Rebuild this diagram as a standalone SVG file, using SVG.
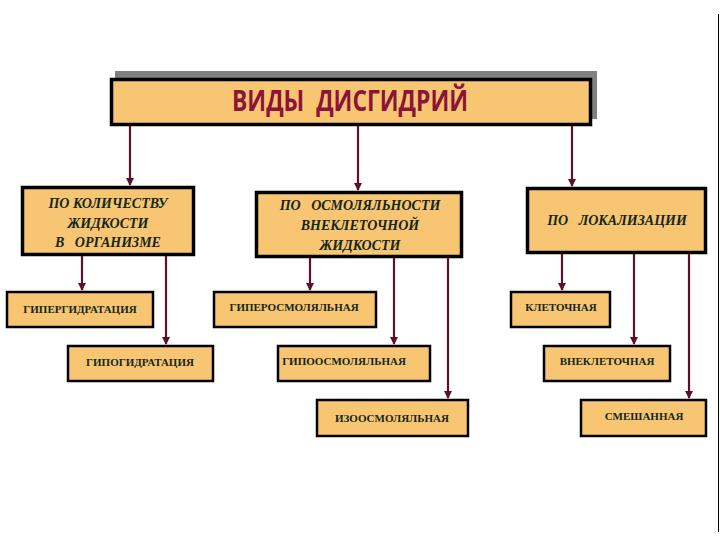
<svg xmlns="http://www.w3.org/2000/svg" width="720" height="540" viewBox="0 0 720 540">
<style>
text{white-space:pre;}
.box{fill:#F8C672;stroke:#000;}
.b2{stroke-width:3.5;}
.b3{stroke-width:2.5;}
.t2{font-family:"Liberation Serif","Times New Roman",serif;font-weight:bold;font-style:italic;font-size:14px;fill:#14261a;text-anchor:middle;}
.t3{font-family:"Liberation Serif","Times New Roman",serif;font-weight:bold;font-size:11px;fill:#14261a;text-anchor:middle;}
.c{stroke:#5c0f2e;stroke-width:2.2;fill:none;marker-end:url(#ah);}
</style>
<defs>
<marker id="ah" markerWidth="8" markerHeight="8" refX="7" refY="4" orient="auto" markerUnits="userSpaceOnUse">
<path d="M0,0 L8,4 L0,8 Z" fill="#5c0f2e"/>
</marker>
</defs>
<rect width="720" height="540" fill="#fff"/>
<line x1="718.5" y1="14" x2="718.5" y2="532" stroke="#000" stroke-width="1"/>
<g id="title">
<rect x="115" y="71" width="482" height="48" fill="#808080"/>
<rect class="box" x="111.5" y="79.5" width="479" height="45" stroke-width="3.5"/>
<text x="350" y="111" font-family="'Open Sans','DejaVu Sans',sans-serif" font-weight="bold" font-size="28" fill="#8a1538" text-anchor="middle" textLength="236" lengthAdjust="spacingAndGlyphs">ВИДЫ  ДИСГИДРИЙ</text>
</g>
<g id="quantity">
<rect class="box b2" x="22.5" y="187.5" width="171" height="67"/>
<text class="t2" x="108" y="208">ПО КОЛИЧЕСТВУ</text>
<text class="t2" x="108" y="228">ЖИДКОСТИ</text>
<text class="t2" x="108" y="247">В   ОРГАНИЗМЕ</text>
</g>
<g id="osmolality">
<rect class="box b2" x="256.5" y="192.5" width="205" height="64"/>
<text class="t2" x="360" y="210">ПО   ОСМОЛЯЛЬНОСТИ</text>
<text class="t2" x="360" y="230">ВНЕКЛЕТОЧНОЙ</text>
<text class="t2" x="360" y="250">ЖИДКОСТИ</text>
</g>
<g id="localization">
<rect class="box b2" x="527.5" y="188.5" width="178" height="64"/>
<text class="t2" x="617" y="225">ПО   ЛОКАЛИЗАЦИИ</text>
</g>
<g id="hyperhydration">
<rect class="box b3" x="7" y="292" width="146" height="35"/>
<text class="t3" x="80" y="313">ГИПЕРГИДРАТАЦИЯ</text>
</g>
<g id="hypohydration">
<rect class="box b3" x="68" y="346" width="145" height="35"/>
<text class="t3" x="140" y="366">ГИПОГИДРАТАЦИЯ</text>
</g>
<g id="hyperosmolal">
<rect class="box b3" x="214" y="292" width="162" height="35"/>
<text class="t3" x="294" y="311">ГИПЕРОСМОЛЯЛЬНАЯ</text>
</g>
<g id="hypoosmolal">
<rect class="box b3" x="278" y="346" width="152" height="35"/>
<text class="t3" x="344" y="365">ГИПООСМОЛЯЛЬНАЯ</text>
</g>
<g id="isoosmolal">
<rect class="box b3" x="317" y="400" width="151" height="36"/>
<text class="t3" x="392" y="422">ИЗООСМОЛЯЛЬНАЯ</text>
</g>
<g id="cellular">
<rect class="box b3" x="511" y="292" width="99" height="35"/>
<text class="t3" x="561" y="311">КЛЕТОЧНАЯ</text>
</g>
<g id="extracellular">
<rect class="box b3" x="544" y="346" width="126" height="35"/>
<text class="t3" x="607" y="365">ВНЕКЛЕТОЧНАЯ</text>
</g>
<g id="mixed">
<rect class="box b3" x="581" y="400" width="125" height="36"/>
<text class="t3" x="644" y="420">СМЕШАННАЯ</text>
</g>
<g id="connectors">
<line class="c" x1="130" y1="126" x2="130" y2="185"/>
<line class="c" x1="358" y1="126" x2="358" y2="190"/>
<line class="c" x1="572" y1="126" x2="572" y2="186"/>
<line class="c" x1="82" y1="256" x2="82" y2="290"/>
<line class="c" x1="166" y1="256" x2="166" y2="344"/>
<line class="c" x1="310" y1="258" x2="310" y2="290"/>
<line class="c" x1="394" y1="258" x2="394" y2="344"/>
<line class="c" x1="448" y1="258" x2="448" y2="398"/>
<line class="c" x1="562" y1="254" x2="562" y2="290"/>
<line class="c" x1="634" y1="254" x2="634" y2="344"/>
<line class="c" x1="689" y1="254" x2="689" y2="398"/>
</g>
</svg>
